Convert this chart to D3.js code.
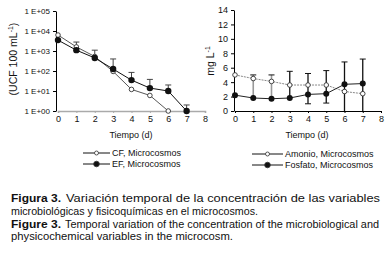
<!DOCTYPE html>
<html>
<head>
<meta charset="utf-8">
<script src="https://cdn.jsdelivr.net/npm/d3@7"></script>
<style>
  body { margin: 0; background: #fff; }
  svg { display: block; font-family: "Liberation Sans", Arial, sans-serif; }
</style>
</head>
<body>
<div id="chart"></div>
<script>
// data
const days = [0, 1, 2, 3, 4, 5, 6, 7];
const cfValues = [6300, 1600, 530, 95, 12, 6, 1];
const efValues = [3500, 1100, 450, 125, 35, 14, 10, 1];
const efErrHigh = [null, 2800, 1100, 400, 85, 38, 20, 2];
const logTicks = [1, 10, 100, 1000, 10000, 100000];
const logTickLabels = ['1 E+00', '1 E+01', '1 E+02', '1 E+03', '1 E+04', '1 E+05'];

const amonioValues = [5.0, 4.5, 4.1, 3.6, 3.6, 3.6, 2.7, 2.4];
const fosfatoValues = [2.2, 1.8, 1.7, 1.8, 2.3, 2.4, 3.7, 3.8];
const fosfatoErrLow = [null, 1.8, 1.7, 1.8, 1.0, 1.1, 0, 0];
const fosfatoErrHigh = [null, 5.0, 5.0, 5.5, 5.2, 5.6, 6.8, 7.2];
const fosfatoErrGray = [false, true, true, false, false, false, false, false];
const linTicks = [0, 2, 4, 6, 8, 10, 12, 14];
const xTicks = [0, 1, 2, 3, 4, 5, 6, 7, 8];

// caption: bold lead + rest, with the widths they take in the figure
const captionLines = [
    { bold: 'Figura 3.', rest: 'Variación temporal de la concentración de las variables', x: 66, len: 314 },
    { bold: '', rest: 'microbiológicas y fisicoquímicas en el microcosmos.', x: 11, len: 247 },
    { bold: 'Figure 3.', rest: 'Temporal variation of the concentration of the microbiological and', x: 65, len: 314 },
    { bold: '', rest: 'physicochemical variables in the microcosm.', x: 11, len: 222 }
];

const svg = d3.select('#chart')
    .append('svg')
    .attr('width', 386)
    .attr('height', 259);

// ---------- left panel (log scale) ----------
const xL = d3.scaleLinear().domain([0, 8]).range([58, 205]);
const yL = d3.scaleLog().domain([1, 100000]).range([111, 11]);

svg.append('g')
    .attr('transform', 'translate(0,111)')
    .call(d3.axisBottom(xL).tickValues(xTicks).tickSize(2).tickPadding(3))
    .call(g => g.select('.domain').attr('stroke', '#aaa').attr('stroke-width', 1.6))
    .call(g => g.selectAll('.tick line').attr('stroke', '#aaa'))
    .call(g => g.selectAll('text').attr('font-size', 9).attr('fill', '#111'));

svg.append('g')
    .attr('transform', 'translate(56,0)')
    .call(d3.axisLeft(yL).tickValues(logTicks).tickFormat((d, i) => logTickLabels[i]).tickSize(3).tickSizeOuter(0).tickPadding(3))
    .call(g => g.selectAll('text').attr('font-size', 8).attr('fill', '#111'));

// EF error bars
const efErr = days.filter(d => efErrHigh[d] != null);
svg.append('g').selectAll('line')
    .data(efErr)
    .enter()
    .append('line')
    .attr('x1', d => xL(d)).attr('x2', d => xL(d))
    .attr('y1', d => yL(efValues[d])).attr('y2', d => yL(efErrHigh[d]))
    .attr('stroke', '#444');
svg.append('g').selectAll('line')
    .data(efErr)
    .enter()
    .append('line')
    .attr('x1', d => xL(d) - 3).attr('x2', d => xL(d) + 3)
    .attr('y1', d => yL(efErrHigh[d])).attr('y2', d => yL(efErrHigh[d]))
    .attr('stroke', '#444');

const lineL = vals => d3.line()
    .x((d, i) => xL(days[i]))
    .y(d => yL(d))(vals);

svg.append('path')
    .attr('d', lineL(cfValues))
    .attr('fill', 'none')
    .attr('stroke', '#444')
    .attr('stroke-width', 0.9);
svg.append('path')
    .attr('d', lineL(efValues))
    .attr('fill', 'none')
    .attr('stroke', '#111')
    .attr('stroke-width', 1);

svg.append('g').selectAll('circle')
    .data(cfValues)
    .enter()
    .append('circle')
    .attr('cx', (d, i) => xL(days[i]))
    .attr('cy', d => yL(d))
    .attr('r', 2.3)
    .attr('fill', '#fff')
    .attr('stroke', '#333')
    .attr('stroke-width', 0.9);
svg.append('g').selectAll('circle')
    .data(efValues)
    .enter()
    .append('circle')
    .attr('cx', (d, i) => xL(days[i]))
    .attr('cy', d => yL(d))
    .attr('r', 3.2)
    .attr('fill', '#111');

svg.append('text')
    .attr('transform', 'translate(17,59) rotate(-90)')
    .attr('text-anchor', 'middle')
    .attr('font-size', 10.5)
    .attr('fill', '#111')
    .text('(UCF 100 mL')
    .append('tspan').attr('dy', -4).attr('font-size', 7).text('-1')
    .select(function () { return this.parentNode; })
    .append('tspan').attr('dy', 4).text(')');

svg.append('text')
    .attr('x', 131).attr('y', 138)
    .attr('text-anchor', 'middle')
    .attr('font-size', 9)
    .attr('fill', '#111')
    .text('Tiempo (d)');

// ---------- right panel (linear) ----------
const xR = d3.scaleLinear().domain([0, 8]).range([235, 381]);
const yR = d3.scaleLinear().domain([0, 14]).range([111, 10]);

svg.append('g')
    .attr('transform', 'translate(0,111)')
    .call(d3.axisBottom(xR).tickValues(xTicks).tickSize(2).tickPadding(3))
    .call(g => g.selectAll('text').attr('font-size', 9).attr('fill', '#111'));

svg.append('g')
    .attr('transform', 'translate(234,0)')
    .call(d3.axisLeft(yR).tickValues(linTicks).tickSize(3).tickSizeOuter(0).tickPadding(3))
    .call(g => g.selectAll('text').attr('font-size', 9).attr('fill', '#111'));

const fErr = days.filter(d => fosfatoErrHigh[d] != null);
svg.append('g').selectAll('line')
    .data(fErr)
    .enter()
    .append('line')
    .attr('x1', d => xR(d)).attr('x2', d => xR(d))
    .attr('y1', d => yR(fosfatoErrLow[d])).attr('y2', d => yR(fosfatoErrHigh[d]))
    .attr('stroke', d => fosfatoErrGray[d] ? '#999' : '#111')
    .attr('stroke-width', d => fosfatoErrGray[d] ? 1.6 : 1.3);
svg.append('g').selectAll('line')
    .data(fErr)
    .enter()
    .append('line')
    .attr('x1', d => xR(d) - 3).attr('x2', d => xR(d) + 3)
    .attr('y1', d => yR(fosfatoErrHigh[d])).attr('y2', d => yR(fosfatoErrHigh[d]))
    .attr('stroke', '#111');
svg.append('g').selectAll('line')
    .data(fErr.filter(d => fosfatoErrLow[d] > 0.5 && !fosfatoErrGray[d] && d > 3))
    .enter()
    .append('line')
    .attr('x1', d => xR(d) - 3).attr('x2', d => xR(d) + 3)
    .attr('y1', d => yR(fosfatoErrLow[d])).attr('y2', d => yR(fosfatoErrLow[d]))
    .attr('stroke', '#111');

const lineR = vals => d3.line()
    .x((d, i) => xR(days[i]))
    .y(d => yR(d))(vals);

svg.append('path')
    .attr('d', lineR(amonioValues))
    .attr('fill', 'none')
    .attr('stroke', '#888')
    .attr('stroke-width', 1)
    .attr('stroke-dasharray', '2,1');
svg.append('path')
    .attr('d', lineR(fosfatoValues))
    .attr('fill', 'none')
    .attr('stroke', '#222')
    .attr('stroke-width', 1);

svg.append('g').selectAll('circle')
    .data(amonioValues)
    .enter()
    .append('circle')
    .attr('cx', (d, i) => xR(days[i]))
    .attr('cy', d => yR(d))
    .attr('r', 2.3)
    .attr('fill', '#fff')
    .attr('stroke', '#333')
    .attr('stroke-width', 0.9);
svg.append('g').selectAll('circle')
    .data(fosfatoValues)
    .enter()
    .append('circle')
    .attr('cx', (d, i) => xR(days[i]))
    .attr('cy', d => yR(d))
    .attr('r', 3)
    .attr('fill', '#111');

svg.append('text')
    .attr('transform', 'translate(214,61) rotate(-90)')
    .attr('text-anchor', 'middle')
    .attr('font-size', 10.5)
    .attr('fill', '#111')
    .text('mg L')
    .append('tspan').attr('dy', -4).attr('font-size', 7).text('-1');

svg.append('text')
    .attr('x', 307).attr('y', 138)
    .attr('text-anchor', 'middle')
    .attr('font-size', 9)
    .attr('fill', '#111')
    .text('Tiempo (d)');

// ---------- legends ----------
const legends = [
    { x1: 83, x2: 110, y: 153, open: true, label: 'CF, Microcosmos' },
    { x1: 83, x2: 110, y: 164, open: false, label: 'EF, Microcosmos' },
    { x1: 252, x2: 283, y: 154, open: true, label: 'Amonio, Microcosmos' },
    { x1: 252, x2: 283, y: 165, open: false, label: 'Fosfato, Microcosmos' }
];
const leg = svg.append('g').selectAll('g')
    .data(legends)
    .enter()
    .append('g');
leg.append('line')
    .attr('x1', d => d.x1).attr('x2', d => d.x2)
    .attr('y1', d => d.y).attr('y2', d => d.y)
    .attr('stroke', '#111');
leg.append('circle')
    .attr('cx', d => (d.x1 + d.x2) / 2)
    .attr('cy', d => d.y)
    .attr('r', d => d.open ? 2 : 2.8)
    .attr('fill', d => d.open ? '#fff' : '#111')
    .attr('stroke', '#333')
    .attr('stroke-width', 0.8);
leg.append('text')
    .attr('x', d => d.x2 + 2)
    .attr('y', d => d.y + 3)
    .attr('font-size', 9)
    .attr('fill', '#111')
    .text(d => d.label);

// ---------- caption ----------
const capY = [202, 215, 228, 240];
captionLines.forEach((c, i) => {
    if (c.bold) {
        svg.append('text')
            .attr('x', 11)
            .attr('y', capY[i])
            .attr('font-size', 11.5)
            .attr('font-weight', 'bold')
            .attr('fill', '#111')
            .attr('textLength', 50)
            .attr('lengthAdjust', 'spacingAndGlyphs')
            .text(c.bold);
    }
    svg.append('text')
        .attr('x', c.x)
        .attr('y', capY[i])
        .attr('font-size', 11.5)
        .attr('fill', '#111')
        .attr('textLength', c.len)
        .attr('lengthAdjust', 'spacingAndGlyphs')
        .text(c.rest);
});
</script>
</body>
</html>
